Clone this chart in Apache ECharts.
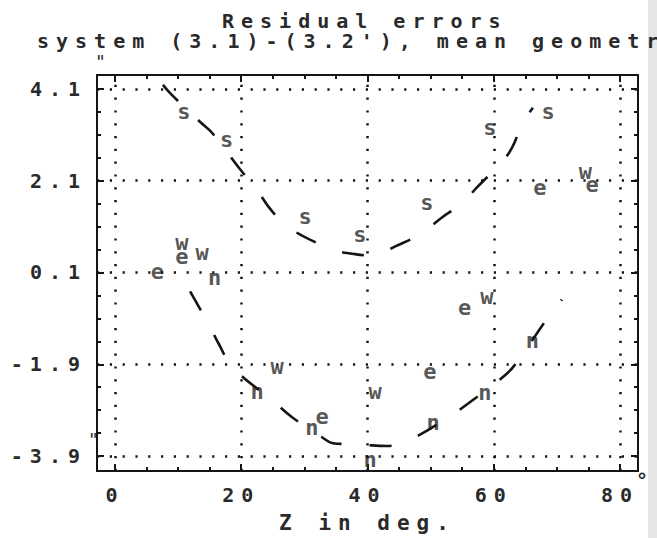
<!DOCTYPE html>
<html><head><meta charset="utf-8">
<script src="https://cdn.jsdelivr.net/npm/echarts@6/dist/echarts.min.js"></script>
<style>
html,body{margin:0;padding:0;background:#fff;}
#c{width:657px;height:538px;}
#c text{letter-spacing:7px;}
</style></head><body><div id="c"></div>
<script>
// ---- data ----
const xMajor = [0, 20, 40, 60, 80];
const xMinor = [5, 10, 15, 25, 30, 35, 45, 50, 55, 65, 70, 75];
const yMajor = [-3.9, -1.9, 0.1, 2.1, 4.1];
const yMinor = [-3.4, -2.9, -2.4, -1.4, -0.9, -0.4, 0.6, 1.1, 1.6, 2.6, 3.1, 3.6];

const sX = [10.9, 17.7, 30.1, 38.8, 49.4, 59.4, 68.6];
const sY = [3.60, 2.99, 1.32, 0.93, 1.62, 3.27, 3.60];
const eX = [6.7, 10.6, 32.8, 49.9, 55.4, 67.3, 75.6];
const eY = [0.12, 0.45, -3.03, -2.05, -0.66, 1.95, 2.01];
const wX = [10.6, 13.8, 25.7, 41.2, 58.9, 74.5];
const wY = [0.75, 0.53, -1.94, -2.49, -0.42, 2.30];
const nX = [15.8, 22.5, 31.2, 40.4, 50.4, 58.6, 66.1];
const nY = [-0.01, -2.49, -3.27, -3.97, -3.16, -2.51, -1.38];

const sFitX = [7.6, 9.0, 13.5, 15.4, 20.1, 21.9, 24.9, 28.0, 32.5, 34.9, 38.0, 40.9, 44.4, 48.3, 51.8, 55.1, 57.3, 61.3, 62.9, 64.6, 66.2];
const sFitY = [4.19, 3.97, 3.38, 3.14, 2.30, 2.02, 1.43, 1.04, 0.71, 0.58, 0.50, 0.47, 0.67, 0.93, 1.30, 1.62, 1.95, 2.51, 2.82, 3.36, 3.69];
const nFitX = [11.9, 15.0, 16.3, 18.7, 25.3, 28.0, 32.8, 34.5, 37.2, 39.6, 43.1, 47.2, 53.1, 55.4, 62.1, 64.2, 68.6, 70.8];
const nFitY = [-0.31, -1.07, -1.42, -1.97, -2.73, -3.05, -3.49, -3.62, -3.64, -3.66, -3.68, -3.51, -3.03, -2.81, -2.10, -1.75, -0.88, -0.49];

const titleText = 'Residual errors';
const subText = "system (3.1)-(3.2'), mean geometry";
const xName = 'Z in deg.';

// ---- chart ----
const FONT = "'DejaVu Sans Mono', monospace";
const INK = '#151515';
const TXT = '#2a2a2a';
const xMin = -2.85, xMax = 82.85, yMin = -4.226, yMax = 4.404;
const zip = (a, b) => a.map((v, i) => [v, b[i]]);

function xAx(pos, ticks, len, withLine, withLabel) {
  return {
    type: 'value', position: pos, min: xMin, max: xMax,
    axisLine: { show: withLine, onZero: false, lineStyle: { color: INK, width: 2 } },
    axisTick: { show: true, inside: true, length: len, customValues: ticks, lineStyle: { color: INK, width: 2 } },
    axisLabel: withLabel ? { show: true, customValues: xMajor, margin: 14, fontFamily: FONT, fontSize: 20, fontWeight: 'bold', color: TXT } : { show: false },
    splitLine: { show: false },
    name: withLabel ? xName : '', nameLocation: 'middle', nameGap: 41,
    nameTextStyle: { fontFamily: FONT, fontSize: 21, fontWeight: 'bold', color: TXT }
  };
}
function yAx(pos, ticks, len, withLine, withLabel) {
  return {
    type: 'value', position: pos, min: yMin, max: yMax,
    axisLine: { show: withLine, onZero: false, lineStyle: { color: INK, width: 2 } },
    axisTick: { show: true, inside: true, length: len, customValues: ticks, lineStyle: { color: INK, width: 2 } },
    axisLabel: withLabel ? { show: true, customValues: yMajor, margin: 10, fontFamily: FONT, fontSize: 20, fontWeight: 'bold', color: TXT, formatter: v => v.toFixed(1) } : { show: false },
    splitLine: { show: false }
  };
}
function letters(ch, xs, ys) {
  return {
    type: 'scatter', xAxisIndex: 0, yAxisIndex: 0, data: zip(xs, ys),
    symbolSize: 2, itemStyle: { color: 'rgba(0,0,0,0)' }, silent: true,
    label: { show: true, position: 'inside', formatter: ch, offset: [3.5, 0], fontFamily: FONT, fontSize: 22, fontWeight: 'bold', color: TXT }
  };
}
function fit(xs, ys) {
  return {
    type: 'line', xAxisIndex: 0, yAxisIndex: 0, data: zip(xs, ys), showSymbol: false, smooth: 0.4,
    silent: true, lineStyle: { color: INK, width: 2.6, type: [22, 28] }
  };
}

const chart = echarts.init(document.getElementById('c'), null, { renderer: 'svg' });
const sFit = fit(sFitX, sFitY);
sFit.markLine = {
  silent: true, symbol: 'none', label: { show: false },
  lineStyle: { color: INK, width: 2.5, type: [2.2, 10.6] },
  data: xMajor.map(v => ({ xAxis: v })).concat(yMajor.map(v => ({ yAxis: v })))
};
chart.setOption({
  animation: false,
  backgroundColor: '#fff',
  title: [
    { text: titleText, left: 222, top: 11, padding: 0, textStyle: { fontFamily: FONT, fontSize: 20, fontWeight: 'bold', color: TXT } },
    { text: subText, left: 37, top: 31, padding: 0, textStyle: { fontFamily: FONT, fontSize: 20, fontWeight: 'bold', color: TXT } }
  ],
  grid: { left: 97, right: 19, top: 75, bottom: 66, containLabel: false },
  xAxis: [
    xAx('bottom', xMajor, 7, true, true),
    xAx('bottom', xMinor, 4, false, false),
    xAx('top', xMajor, 7, true, false),
    xAx('top', xMinor, 4, false, false)
  ],
  yAxis: [
    yAx('left', yMajor, 7, true, true),
    yAx('left', yMinor, 4, false, false),
    yAx('right', yMajor, 7, true, false),
    yAx('right', yMinor, 4, false, false)
  ],
  graphic: [
    { type: 'rect', z: -10, shape: { x: 648, y: 0, width: 9, height: 538 }, style: { fill: '#e6e6e6' }, silent: true },
    { type: 'text', left: 636, top: 470, z: 10, style: { text: '°', fontFamily: FONT, fontSize: 20, fontWeight: 'bold', fill: TXT } },
    { type: 'text', left: 95, top: 52, style: { text: '"', fontFamily: FONT, fontSize: 18, fill: TXT } },
    { type: 'text', left: 88, top: 430, style: { text: '"', fontFamily: FONT, fontSize: 18, fill: TXT } }
  ],
  series: [
    sFit,
    fit(nFitX, nFitY),
    letters('s', sX, sY),
    letters('e', eX, eY),
    letters('w', wX, wY),
    letters('n', nX, nY)
  ]
});
</script></body></html>
